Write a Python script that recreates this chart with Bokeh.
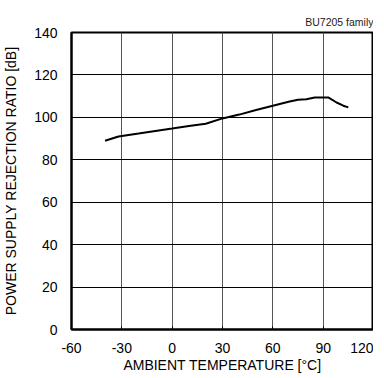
from bokeh.plotting import figure
from bokeh.models import Range1d, FixedTicker
from bokeh.embed import file_html
from bokeh.resources import INLINE

temp = [-40, -32, -20, -10, 0, 10, 20, 30, 40, 50, 60, 70, 75, 80, 85, 93, 98, 102, 105]
psrr = [89, 91, 92.4, 93.6, 94.7, 95.9, 97, 99.5, 101.3, 103.5, 105.5, 107.5, 108.3, 108.5, 109.4, 109.4, 107, 105.5, 104.7]
x_ticks = [-60, -30, 0, 30, 60, 90, 120]
x_labels = ["-60", "-30", "0", "30", "60", "90", "120"]
y_ticks = [0, 20, 40, 60, 80, 100, 120, 140]

FONT = "Liberation Sans"

p = figure(frame_width=302, frame_height=297, output_backend="svg", toolbar_location=None,
           x_range=Range1d(-60, 120), y_range=Range1d(0, 140),
           min_border_left=65, min_border_right=0, min_border_top=32, min_border_bottom=38)

p.title.text = "BU7205 family"
p.title.align = "right"
p.title.text_font = FONT
p.title.text_font_size = "10.5px"
p.title.text_font_style = "normal"
p.title.text_color = "#222222"

p.line(temp, psrr, line_color="black", line_width=2)

p.xaxis.ticker = FixedTicker(ticks=x_ticks)
p.xaxis.major_label_overrides = {t: s for t, s in zip(x_ticks, x_labels)}
p.yaxis.ticker = FixedTicker(ticks=y_ticks)
for ax in (p.xaxis[0], p.yaxis[0]):
    ax.major_label_text_font = FONT
    ax.major_label_text_font_size = "14px"
    ax.major_label_text_color = "black"
    ax.axis_label_text_font = FONT
    ax.axis_label_text_font_size = "14px"
    ax.axis_label_text_font_style = "normal"
    ax.axis_label_text_color = "black"
    ax.axis_line_color = "black"
    ax.axis_line_width = 2
    ax.major_tick_in = 3
    ax.major_tick_out = 0
    ax.major_tick_line_color = "black"
    ax.minor_tick_line_color = None

p.xaxis.axis_label = "AMBIENT TEMPERATURE [°C]"
p.yaxis.axis_label = "POWER SUPPLY REJECTION RATIO [dB]"
p.xaxis.major_label_standoff = 13
p.xaxis.axis_label_standoff = 1
p.yaxis.major_label_standoff = 14
p.yaxis.axis_label_standoff = 12

p.xgrid.grid_line_color = "#555555"
p.xgrid.grid_line_width = 1
p.ygrid.grid_line_color = "black"
p.ygrid.grid_line_width = 1

p.outline_line_color = "black"
p.outline_line_width = 2
p.outline_line_alpha = 1
p.background_fill_color = "white"
p.border_fill_color = "white"

open("out.html", "w").write(file_html(p, INLINE))
